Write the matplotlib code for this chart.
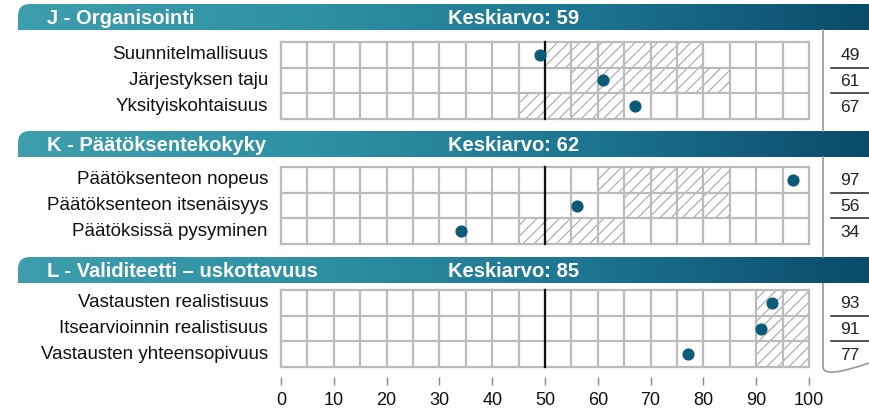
import matplotlib.pyplot as plt
import numpy as np
from matplotlib.colors import LinearSegmentedColormap
from matplotlib.patches import Rectangle, PathPatch
from matplotlib.path import Path

plt.rcParams['font.family'] = ['Liberation Sans', 'DejaVu Sans']
plt.rcParams['hatch.linewidth'] = 0.8
plt.rcParams['hatch.color'] = '#a8a8a8'

# data
titles = ['J - Organisointi', 'K - Päätöksentekokyky', 'L - Validiteetti – uskottavuus']
means = [59, 62, 85]
labels = [['Suunnitelmallisuus', 'Järjestyksen taju', 'Yksityiskohtaisuus'],
          ['Päätöksenteon nopeus', 'Päätöksenteon itsenäisyys', 'Päätöksissä pysyminen'],
          ['Vastausten realistisuus', 'Itsearvioinnin realistisuus', 'Vastausten yhteensopivuus']]
scores = [[49, 61, 67], [97, 56, 34], [93, 91, 77]]
range_lo = [[50, 55, 45], [60, 65, 45], [90, 90, 90]]
range_hi = [[80, 85, 65], [85, 85, 65], [100, 100, 100]]
ticks = [0, 10, 20, 30, 40, 50, 60, 70, 80, 90, 100]

W, H = 869, 411
fig = plt.figure(figsize=(W / 100, H / 100), dpi=100)
bg = fig.add_axes([0, 0, 1, 1])
bg.set_xlim(0, W)
bg.set_ylim(H, 0)
bg.axis('off')

header_top = [4, 131, 257]
header_h = 26
grid_top = [42, 167, 290]
grid_h = 77
x0, x1 = 281, 809

cmap = LinearSegmentedColormap.from_list('hdr', ['#3e9ead', '#2f91a4', '#1d7591', '#0a4b6b'])
dot_color = '#0b5a78'
grid_color = '#bbbbbb'

for s in range(3):
    # header bar with gradient and rounded top-left corner
    t = header_top[s]
    b = t + header_h
    r = 12
    verts = [(18, b), (18, t + r), (18, t), (18 + r, t), (W, t), (W, b), (18, b)]
    codes = [Path.MOVETO, Path.LINETO, Path.CURVE3, Path.CURVE3, Path.LINETO, Path.LINETO, Path.CLOSEPOLY]
    clip = PathPatch(Path(verts, codes), facecolor='none', edgecolor='none')
    bg.add_patch(clip)
    grad = np.linspace(0, 1, 256).reshape(1, -1)
    im = bg.imshow(grad, cmap=cmap, aspect='auto', extent=[18, W, b, t], zorder=1)
    im.set_clip_path(clip)
    bg.text(47, (t + b) / 2 + 1, titles[s], color='white', fontsize=14.5, fontweight='bold',
            va='center', ha='left', zorder=3)
    bg.text(448, (t + b) / 2 + 1, 'Keskiarvo: %d' % means[s], color='white', fontsize=14.5,
            fontweight='bold', va='center', ha='left', zorder=3)

    # value box
    gt = grid_top[s]
    row_h = grid_h / 3
    if s < 2:
        bg.plot([823, 823], [b, header_top[s + 1]], color='#999999', lw=1.2)
    else:
        pv = [(823, b), (823, gt + grid_h), (823, gt + grid_h + 12), (W, gt + grid_h - 4)]
        pc = [Path.MOVETO, Path.LINETO, Path.CURVE3, Path.CURVE3]
        bg.add_patch(PathPatch(Path(pv, pc), facecolor='none', edgecolor='#999999', lw=1.2))
    for i in range(3):
        yc = gt + row_h * (i + 0.5)
        bg.text(850, yc + 1, str(scores[s][i]), fontsize=12.5, ha='center', va='center', color='#222222')
        bg.text(268, yc, labels[s][i], fontsize=13.5, ha='right', va='center', color='#111111')
        if i < 2:
            bg.plot([831, W], [gt + row_h * (i + 1)] * 2, color='#222222', lw=1.1)

    # grid axes
    ax = fig.add_axes([x0 / W, 1 - (gt + grid_h) / H, (x1 - x0) / W, grid_h / H])
    ax.set_xlim(0, 100)
    ax.set_ylim(3, 0)
    for sp in ax.spines.values():
        sp.set_visible(False)
    ax.set_yticks([])
    for i in range(3):
        ax.add_patch(Rectangle((range_lo[s][i], i), range_hi[s][i] - range_lo[s][i], 1,
                               facecolor='none', edgecolor='#a8a8a8', hatch='///', lw=0, zorder=1))
    for xv in range(0, 101, 5):
        ax.plot([xv, xv], [0, 3], color=grid_color, lw=1.6, zorder=2, clip_on=False)
    for yv in range(4):
        ax.plot([0, 100], [yv, yv], color=grid_color, lw=1.6, zorder=2, clip_on=False)
    ax.plot([50, 50], [0, 3], color='#111111', lw=1.6, zorder=3, clip_on=False)
    ax.scatter(scores[s], [0.5, 1.5, 2.5], s=60, color=dot_color, zorder=4, clip_on=False)

    if s < 2:
        ax.set_xticks([])
    else:
        ax.set_xticks(ticks)
        ax.spines['bottom'].set_position(('outward', 7))
        ax.tick_params(axis='x', length=5.5, width=1, color='#888888', labelsize=13,
                       labelcolor='#111111', pad=5.5)

fig.savefig('out.png', dpi=100)
